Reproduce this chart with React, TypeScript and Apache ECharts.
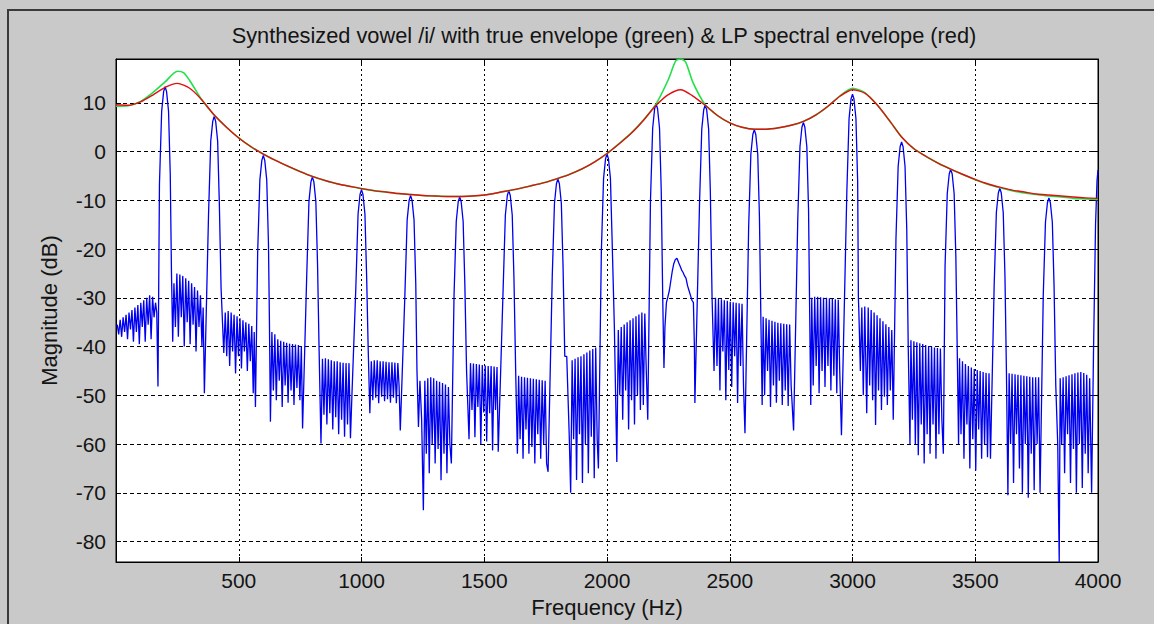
import React, { useEffect, useRef } from 'react';
import * as echarts from 'echarts';

const chartTitle = 'Synthesized vowel /i/ with true envelope (green) & LP spectral envelope (red)';
const xAxisName = 'Frequency (Hz)';
const yAxisName = 'Magnitude (dB)';
const yTicks = [-80, -70, -60, -50, -40, -30, -20, -10, 0, 10];

// LP spectral envelope (red) [Hz, dB]
const lpEnvelope: [number, number][] = [
  [0, 9.6], [50, 9.5], [100, 10.2], [150, 11.6], [200, 13.2], [250, 14.0], [300, 13.0], [350, 10.6],
  [400, 7.5], [450, 5.0], [500, 2.8], [550, 1.0], [600, -0.5], [650, -1.8], [700, -3.0], [750, -4.1],
  [800, -5.1], [850, -5.9], [900, -6.6], [950, -7.1], [1000, -7.6], [1050, -8.0], [1100, -8.3],
  [1150, -8.6], [1200, -8.8], [1250, -9.0], [1300, -9.1], [1350, -9.2], [1400, -9.2], [1450, -9.1],
  [1500, -8.9], [1550, -8.5], [1600, -8.0], [1650, -7.5], [1700, -6.9], [1750, -6.3], [1800, -5.5],
  [1850, -4.6], [1900, -3.5], [1950, -2.1], [2000, -0.4], [2050, 1.6], [2100, 3.8], [2150, 6.5],
  [2200, 9.5], [2250, 11.7], [2300, 12.7], [2350, 11.4], [2400, 9.5], [2450, 7.4], [2500, 5.9],
  [2550, 5.0], [2600, 4.6], [2650, 4.6], [2700, 4.9], [2750, 5.4], [2800, 6.2], [2850, 7.5],
  [2900, 9.3], [2950, 11.4], [3000, 12.7], [3050, 12.0], [3100, 9.6], [3150, 6.4], [3200, 3.0],
  [3250, 0.6], [3300, -1.0], [3350, -2.4], [3400, -3.6], [3450, -4.7], [3500, -5.7], [3550, -6.6],
  [3600, -7.3], [3650, -7.9], [3700, -8.3], [3750, -8.7], [3800, -8.9], [3850, -9.1], [3900, -9.3],
  [3950, -9.5], [4000, -9.6],
];

// True envelope (green) [Hz, dB]
const trueEnvelope: [number, number][] = [
  [0, 9.3], [50, 9.4], [100, 10.3], [150, 12.1], [200, 14.3], [250, 16.5], [275, 16.2], [300, 14.6],
  [350, 10.6], [400, 7.5], [450, 5.0], [500, 2.8], [550, 1.0], [600, -0.5], [650, -1.8], [700, -3.0],
  [750, -4.1], [800, -5.1], [850, -5.9], [900, -6.6], [950, -7.1], [1000, -7.6], [1050, -8.0],
  [1100, -8.3], [1150, -8.6], [1200, -8.8], [1250, -9.0], [1300, -9.1], [1350, -9.2], [1400, -9.2],
  [1450, -9.1], [1500, -8.9], [1550, -8.5], [1600, -8.0], [1650, -7.5], [1700, -6.9], [1750, -6.3],
  [1800, -5.5], [1850, -4.6], [1900, -3.5], [1950, -2.1], [2000, -0.4], [2050, 1.7], [2100, 3.9],
  [2150, 6.6], [2200, 9.8], [2250, 14.8], [2280, 18.6], [2300, 19.0], [2320, 18.4], [2350, 14.2],
  [2400, 9.6], [2450, 7.4], [2500, 5.9], [2550, 5.0], [2600, 4.6], [2650, 4.6], [2700, 4.9],
  [2750, 5.4], [2800, 6.2], [2850, 7.5], [2900, 9.3], [2950, 11.5], [3000, 13.0], [3050, 12.1],
  [3100, 9.6], [3150, 6.4], [3200, 3.0], [3250, 0.6], [3300, -1.0], [3350, -2.4], [3400, -3.6],
  [3450, -4.7], [3500, -5.8], [3550, -6.7], [3600, -7.4], [3650, -8.0], [3700, -8.5], [3750, -8.8],
  [3800, -9.1], [3850, -9.3], [3900, -9.6], [3950, -9.7], [4000, -9.8],
];

// Synthesized vowel spectrum (blue) [Hz, dB]
const spectrum: [number, number][] = [
  // 0 - 200
  [5, -35.5], [11, -37.5], [17, -34.5], [23, -38], [29, -34], [35, -37], [41, -33.5], [47, -38.5],
  [53, -33], [59, -36.5], [65, -32.5], [71, -39], [77, -32], [83, -37], [89, -31.5], [95, -39.5],
  [101, -31], [107, -36], [113, -30.5], [119, -39], [125, -30], [131, -35.5], [137, -29.5], [143, -38.5],
  [149, -29.8], [155, -34], [161, -31], [166, -33], [171, -48.2],
  [177, -6.7], [186, 8.3], [194, 12.3], [200, 13.3], [206, 12.3], [214, 8.3], [221, -4.7], [226, -25], [231, -39],
  // 200 - 400
  [236, -27], [242, -36], [248, -25], [254, -38], [260, -25.2], [266, -34], [272, -25.5], [278, -40],
  [284, -26], [290, -35], [296, -26.5], [302, -39.5], [308, -27], [314, -35.5], [320, -27.8], [326, -41],
  [332, -28.5], [338, -36], [344, -29.5], [350, -40], [355, -32], [360, -49.6],
  [377, -12.8], [386, 2.2], [394, 6.2], [400, 7.2], [406, 6.2], [414, 2.2], [421, -10.8], [428, -28], [439, -41.3],
  // 400 - 600
  [445, -33], [451, -42], [457, -32.7], [463, -44], [469, -33], [475, -41], [481, -33.5], [487, -45.5],
  [493, -33.8], [499, -42], [505, -34.2], [511, -44.5], [517, -34.6], [523, -41], [529, -35], [535, -45],
  [541, -35.3], [547, -43], [553, -35.8], [559, -49.6], [563, -37], [568, -52.4],
  [577, -20.8], [586, -5.8], [594, -1.8], [600, -0.8], [606, -1.8], [614, -5.8], [621, -18.8], [625, -35], [629, -55.4],
  // 600 - 800
  [635, -37], [641, -49], [647, -37.5], [653, -51], [659, -38.5], [665, -47], [671, -38.8], [677, -52.4],
  [683, -39], [689, -48], [695, -39.2], [701, -51.5], [707, -39.4], [713, -49], [719, -39.5], [725, -52],
  [731, -39.6], [737, -48.5], [743, -39.7], [749, -51], [755, -40], [760, -56.8],
  [777, -25.2], [786, -10.2], [794, -6.2], [800, -5.2], [806, -6.2], [814, -10.2], [821, -23.2], [827, -40], [835, -59.9],
  // 800 - 1000
  [841, -42.5], [847, -54], [853, -42.4], [859, -56], [865, -42.6], [871, -53.7], [877, -42.8], [883, -57],
  [889, -43], [895, -54.5], [901, -43], [907, -58], [913, -43.2], [919, -55], [925, -43.3], [931, -58.5],
  [937, -43.4], [943, -56], [949, -43.4], [955, -58.8], [961, -50],
  [977, -27.8], [986, -12.8], [994, -8.8], [1000, -7.8], [1006, -8.8], [1014, -12.8], [1021, -25.8], [1027, -40], [1034, -53.7],
  // 1000 - 1200
  [1040, -43], [1046, -51], [1052, -42.8], [1058, -50.5], [1064, -42.8], [1070, -51.6], [1076, -43], [1082, -50.3],
  [1088, -43], [1094, -51.2], [1100, -43.1], [1106, -50.8], [1112, -43.2], [1118, -51.5], [1124, -43.2], [1130, -50.5],
  [1136, -43.3], [1142, -51.6], [1148, -43.4], [1153, -48], [1158, -57.2],
  [1177, -29], [1186, -14], [1194, -10], [1200, -9], [1206, -10], [1214, -14], [1221, -27], [1226, -45],
  [1232, -56.5], [1238, -47], [1245, -55], [1252, -73.6],
  // 1200 - 1400
  [1258, -47], [1264, -62], [1270, -46.5], [1276, -66], [1282, -46.3], [1288, -60], [1294, -46.5], [1300, -64],
  [1306, -47], [1312, -61], [1318, -47.2], [1324, -67.4], [1330, -47.5], [1336, -62], [1342, -47.8], [1348, -66],
  [1354, -48.3], [1360, -60], [1366, -64],
  [1377, -29.3], [1386, -14.3], [1394, -10.3], [1400, -9.3], [1406, -10.3], [1414, -14.3], [1421, -27.3], [1428, -45], [1438, -59],
  // 1400 - 1600
  [1444, -43.4], [1450, -53], [1456, -43.5], [1462, -58.6], [1468, -43.6], [1474, -52.4], [1480, -43.7], [1486, -60],
  [1492, -43.8], [1498, -53.5], [1504, -43.9], [1510, -59.5], [1516, -44], [1522, -53.7], [1528, -44], [1534, -61.3],
  [1540, -44.1], [1546, -53], [1552, -44.2], [1557, -61.6],
  [1577, -28], [1586, -13], [1594, -9], [1600, -8], [1606, -9], [1614, -13], [1621, -26], [1628, -45], [1635, -62],
  // 1600 - 1800
  [1640, -46], [1646, -59], [1652, -46.2], [1658, -63], [1664, -46.3], [1670, -57], [1676, -46.4], [1682, -62],
  [1688, -46.5], [1694, -60.6], [1700, -46.6], [1706, -64], [1712, -46.7], [1718, -58], [1724, -46.8], [1730, -63],
  [1736, -46.9], [1742, -60], [1748, -47], [1754, -64], [1760, -65.7],
  [1777, -25.6], [1786, -10.6], [1794, -6.6], [1800, -5.6], [1806, -6.6], [1814, -10.6], [1821, -23.6], [1828, -42],
  [1836, -42], [1846, -58], [1852, -70],
  // 1800 - 2000
  [1858, -42.8], [1864, -59], [1870, -42.5], [1876, -67.4], [1882, -42.2], [1888, -58], [1894, -42], [1900, -68],
  [1906, -41.6], [1912, -60], [1918, -41.2], [1924, -66], [1930, -40.8], [1936, -58.5], [1942, -40.5], [1948, -67],
  [1954, -40.2], [1960, -59], [1965, -65],
  [1977, -20.5], [1986, -5.5], [1994, -1.5], [2000, -0.5], [2006, -1.5], [2014, -5.5], [2021, -18.5], [2030, -36], [2040, -63.7],
  // 2000 - 2200
  [2046, -36.6], [2052, -50], [2058, -36], [2064, -55], [2070, -35.5], [2076, -49], [2082, -35], [2088, -57],
  [2094, -34.6], [2100, -51], [2106, -34.2], [2112, -56], [2118, -33.8], [2124, -50], [2130, -33.4], [2136, -53],
  [2142, -33], [2148, -52], [2154, -33.2], [2160, -45], [2166, -55],
  [2177, -10.2], [2186, 4.8], [2194, 8.8], [2200, 9.8], [2206, 8.8], [2214, 4.8], [2221, -8.2], [2227, -30], [2232, -44.4],
  // 2200 - 2400 (formant bump)
  [2236, -36], [2242, -31], [2248, -29.8], [2254, -28.5], [2260, -26.5], [2266, -24.5], [2272, -23], [2278, -22.2],
  [2285, -21.9], [2292, -22.8], [2298, -23.5], [2304, -24.3], [2310, -24.8], [2316, -25.5], [2322, -26], [2328, -27.5],
  [2334, -28.5], [2340, -29.5], [2346, -30.5], [2352, -31], [2356, -40], [2358, -51.6],
  [2377, -10.4], [2386, 4.6], [2394, 8.6], [2400, 9.6], [2406, 8.6], [2414, 4.6], [2421, -8.4], [2428, -30], [2436, -45],
  // 2400 - 2600
  [2442, -30], [2448, -44], [2454, -30.2], [2460, -49], [2466, -30.3], [2472, -41], [2478, -30.5], [2484, -51],
  [2490, -30.6], [2496, -44.8], [2502, -30.8], [2508, -48.3], [2514, -30.9], [2520, -42], [2526, -31], [2532, -51.6],
  [2538, -31.1], [2544, -44], [2550, -31.2], [2556, -48], [2562, -57.8],
  [2577, -15.5], [2586, -0.5], [2594, 3.5], [2600, 4.5], [2606, 3.5], [2614, -0.5], [2621, -13.5], [2627, -35], [2632, -52],
  // 2600 - 2800
  [2636, -33.9], [2642, -50], [2648, -34.2], [2654, -45], [2660, -34.5], [2666, -52.4], [2672, -34.7], [2678, -48],
  [2684, -34.9], [2690, -51.5], [2696, -35.1], [2702, -47], [2708, -35.2], [2714, -52], [2720, -35.3], [2726, -49],
  [2732, -35.4], [2738, -52.2], [2744, -35.5], [2750, -48], [2760, -57.2],
  [2777, -14], [2786, 1], [2794, 5], [2800, 6], [2806, 5], [2814, 1], [2821, -12], [2826, -35], [2830, -52],
  // 2800 - 3000
  [2834, -30], [2840, -48], [2846, -29.8], [2852, -44], [2858, -29.8], [2864, -49.6], [2870, -29.9], [2876, -45],
  [2882, -30], [2888, -48.3], [2894, -30], [2900, -44], [2906, -30.1], [2912, -49], [2918, -30.2], [2924, -46],
  [2930, -30.3], [2936, -49.6], [2942, -30.4], [2948, -45], [2955, -58.2],
  [2977, -8.2], [2986, 6.8], [2994, 10.8], [3000, 11.8], [3006, 10.8], [3014, 6.8], [3021, -6.2], [3024, -30],
  // 3000 - 3200
  [3026, -33], [3032, -45], [3038, -32], [3044, -50], [3050, -31.8], [3058, -53.7], [3064, -32], [3070, -48],
  [3076, -32.5], [3082, -51], [3088, -33], [3094, -56.1], [3100, -33.6], [3106, -49], [3112, -34.2], [3118, -53],
  [3124, -34.8], [3130, -50.3], [3136, -35.4], [3142, -52], [3148, -36], [3154, -49], [3160, -36.6], [3166, -55],
  [3177, -18], [3186, -3], [3194, 1], [3200, 2], [3206, 1], [3214, -3], [3221, -16], [3227, -40], [3234, -60],
  // 3200 - 3400
  [3238, -38.7], [3244, -55], [3250, -38.9], [3256, -60], [3262, -39.1], [3268, -62.3], [3274, -39.3], [3280, -56],
  [3286, -39.5], [3292, -64], [3298, -39.7], [3304, -58], [3310, -39.9], [3316, -62], [3322, -40], [3328, -56],
  [3334, -40.2], [3340, -63], [3346, -40.3], [3352, -58], [3358, -40.4], [3364, -55], [3370, -62],
  [3377, -23.6], [3386, -8.6], [3394, -4.6], [3400, -3.6], [3406, -4.6], [3414, -8.6], [3421, -21.6], [3427, -42], [3432, -60],
  // 3400 - 3600
  [3436, -42.4], [3442, -58], [3448, -43], [3454, -63], [3460, -43.6], [3466, -56], [3472, -44], [3478, -65],
  [3484, -44.3], [3490, -59], [3496, -44.6], [3502, -65.4], [3508, -44.8], [3514, -57], [3520, -45], [3526, -63],
  [3532, -45.2], [3538, -60], [3544, -45.4], [3550, -62.7], [3556, -45.5], [3562, -63],
  [3577, -27.5], [3586, -12.5], [3594, -8.5], [3600, -7.5], [3606, -8.5], [3614, -12.5], [3621, -25.5], [3627, -45], [3633, -70.5],
  // 3600 - 3800
  [3638, -45.5], [3644, -60], [3650, -45.6], [3656, -68], [3662, -45.7], [3668, -58], [3674, -45.8], [3680, -65],
  [3686, -45.9], [3692, -70], [3698, -46], [3704, -60], [3710, -46.1], [3716, -71], [3722, -46.2], [3728, -62],
  [3734, -46.3], [3740, -69.5], [3746, -46.3], [3752, -60], [3758, -46.3], [3764, -70],
  [3777, -29.5], [3786, -14.5], [3794, -10.5], [3800, -9.5], [3806, -10.5], [3814, -14.5], [3821, -27.5], [3828, -48],
  [3836, -60], [3842, -84.2],
  // 3800 - 4000
  [3846, -46.5], [3852, -60], [3858, -46.3], [3864, -66], [3870, -46.1], [3876, -58], [3882, -45.9], [3888, -68],
  [3894, -45.7], [3900, -61], [3906, -45.5], [3912, -70], [3918, -45.3], [3924, -60], [3930, -45.2], [3936, -69],
  [3942, -45.4], [3948, -62], [3954, -45.8], [3960, -66], [3966, -46.5], [3974, -70],
  [3982, -40], [3990, -15], [3996, -6], [4000, -3.8],
];

const FONT = '"Liberation Sans", Arial, Helvetica, sans-serif';
const TXT = '#141414';

export default function App() {
  const ref = useRef<HTMLDivElement>(null);
  useEffect(() => {
    if (!ref.current) return;
    const chart = echarts.init(ref.current, null, { renderer: 'svg' });
    const vGrid = { color: '#000', type: [2, 3] as number[], width: 1 };
    const hGrid = { color: '#000', type: [4, 3] as number[], width: 1 };
    chart.setOption({
      animation: false,
      backgroundColor: '#c9c9c9',
      textStyle: { fontFamily: FONT },
      graphic: [
        {
          type: 'rect',
          shape: { x: 8, y: 10, width: 1160, height: 640 },
          style: { fill: 'none', stroke: '#3a3a3a', lineWidth: 2 },
          silent: true,
        },
        {
          type: 'text',
          x: 604,
          y: 35,
          style: {
            text: chartTitle,
            fontSize: 21.8,
            fontFamily: FONT,
            fill: TXT,
            textAlign: 'center',
            textVerticalAlign: 'middle',
          },
          silent: true,
        },
      ],
      grid: {
        left: 116,
        right: 56,
        top: 59,
        bottom: 62,
        show: true,
        backgroundColor: '#ffffff',
        borderColor: '#000',
        borderWidth: 1,
      },
      xAxis: [
        {
          type: 'value',
          min: 0,
          max: 4000,
          interval: 500,
          name: xAxisName,
          nameLocation: 'middle',
          nameGap: 34,
          nameTextStyle: { fontSize: 22, color: TXT, fontFamily: FONT },
          axisLine: { show: true, onZero: false, lineStyle: { color: '#000' } },
          axisTick: { show: true, inside: true, length: 5, lineStyle: { color: '#000' } },
          axisLabel: {
            showMinLabel: false,
            fontSize: 21,
            color: TXT,
            margin: 8,
            fontFamily: FONT,
            formatter: (v: number) => String(v),
          },
          splitLine: { show: true, lineStyle: vGrid },
        },
        {
          type: 'value',
          position: 'top',
          min: 0,
          max: 4000,
          interval: 500,
          axisLine: { show: true, onZero: false, lineStyle: { color: '#000' } },
          axisTick: { show: true, inside: true, length: 5, lineStyle: { color: '#000' } },
          axisLabel: { show: false },
          splitLine: { show: false },
        },
      ],
      yAxis: [
        {
          type: 'value',
          min: -84.2,
          max: 19,
          name: yAxisName,
          nameLocation: 'middle',
          nameGap: 56,
          nameTextStyle: { fontSize: 22, color: TXT, fontFamily: FONT },
          axisLine: { show: true, onZero: false, lineStyle: { color: '#000' } },
          axisTick: { show: true, inside: true, length: 5, customValues: yTicks, lineStyle: { color: '#000' } },
          axisLabel: { fontSize: 21, color: TXT, margin: 10, customValues: yTicks, fontFamily: FONT },
          splitLine: { show: true, lineStyle: hGrid },
        },
        {
          type: 'value',
          position: 'right',
          min: -84.2,
          max: 19,
          axisLine: { show: true, onZero: false, lineStyle: { color: '#000' } },
          axisTick: { show: true, inside: true, length: 5, customValues: yTicks, lineStyle: { color: '#000' } },
          axisLabel: { show: false, customValues: yTicks },
          splitLine: { show: false },
        },
      ],
      series: [
        {
          name: 'spectrum',
          type: 'line',
          data: spectrum,
          showSymbol: false,
          symbol: 'none',
          lineStyle: { color: '#0000f0', width: 1.3 },
          silent: true,
          z: 3,
        },
        {
          name: 'true envelope',
          type: 'line',
          data: trueEnvelope,
          smooth: 0.25,
          showSymbol: false,
          symbol: 'none',
          lineStyle: { color: '#22e04a', width: 1.6 },
          silent: true,
          z: 4,
        },
        {
          name: 'LP envelope',
          type: 'line',
          data: lpEnvelope,
          smooth: 0.25,
          showSymbol: false,
          symbol: 'none',
          lineStyle: { color: '#e01010', width: 1.4 },
          silent: true,
          z: 5,
        },
      ],
    });
    return () => chart.dispose();
  }, []);
  return <div ref={ref} style={{ position: 'absolute', left: 0, top: 0, width: 1154, height: 624 }} />;
}
